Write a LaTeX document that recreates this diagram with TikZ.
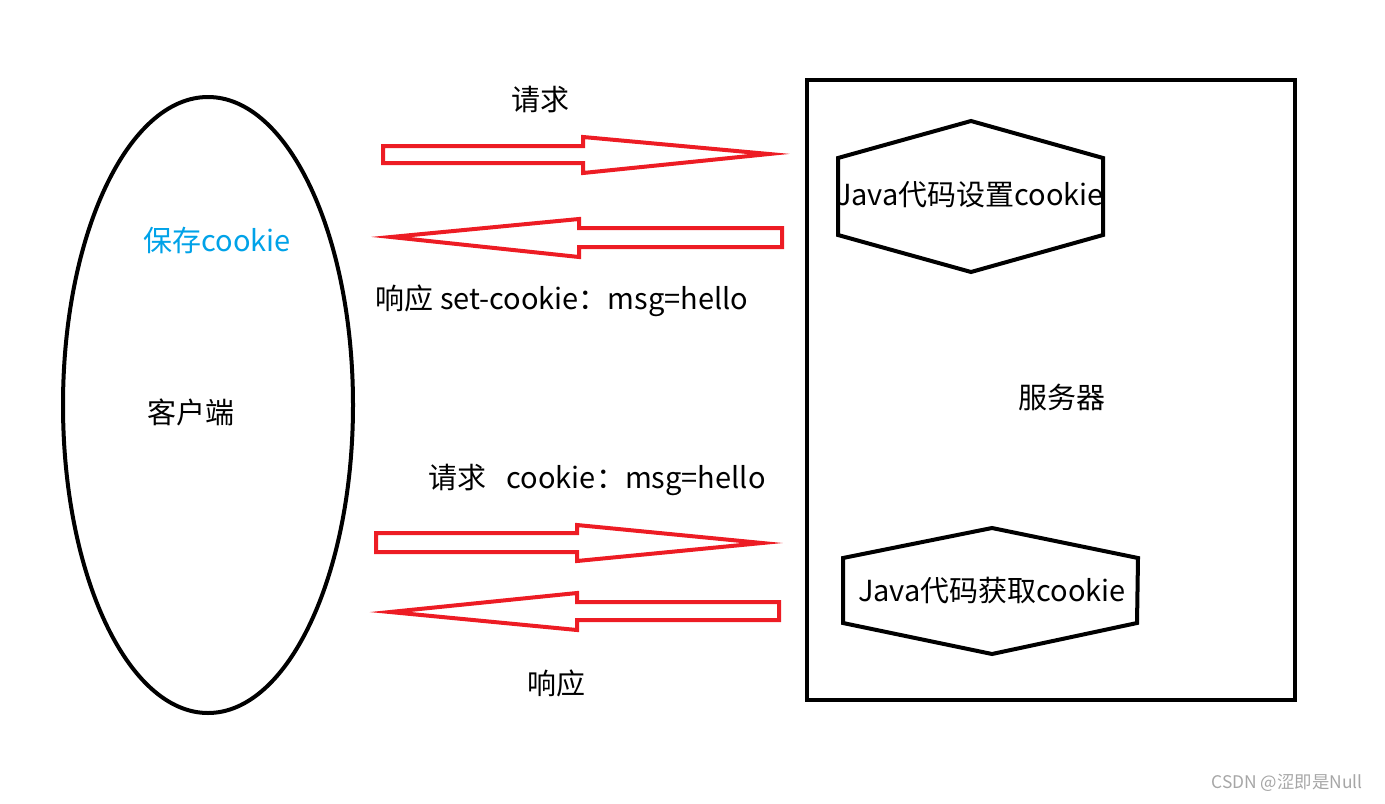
\documentclass[tikz,border=0pt]{standalone}
\usepackage{fontspec}
\setmainfont{Noto Sans CJK SC}
\usetikzlibrary{shapes.geometric}
\definecolor{paintred}{RGB}{237,28,36}
\definecolor{paintblue}{RGB}{0,162,232}
\tikzset{
  blockarrow/.style={draw=paintred,line width=2pt,line join=miter,miter limit=20},
  outline/.style={draw=black,line width=2pt},
  msgtext/.style={font=\fontsize{14.5pt}{16pt}\selectfont,inner sep=0pt}
}
\begin{document}
\begin{tikzpicture}[x=0.5pt,y=-0.5pt]
  \useasboundingbox (0,0) rectangle (1385,803);
  % client and server
  \node[outline,ellipse,minimum width=145pt,minimum height=308pt,inner sep=0pt]
    (client) at (208,405) {};
  \node[outline,minimum width=244pt,minimum height=310pt,inner sep=0pt]
    (server) at (1051,390) {};
  % hexagons
  \draw[outline]
    (838,158) -- (971,121) -- (1103,158) -- (1103,235) -- (971,272) -- (838,235) -- cycle
    (843,558) -- (992,528) -- (1138,558) -- (1137,623) -- (992,654) -- (843,623) -- cycle;
  \node[msgtext] (setjava) at (970,195) {Java代码设置cookie};
  \node[msgtext] (getjava) at (992,590) {Java代码获取cookie};
  % block arrows
  \draw[blockarrow]
    (383,146) -- (583,146) -- (583,137) -- (769,154) -- (583,173) -- (583,163) -- (383,163) -- cycle
    (782,228) -- (579,228) -- (579,219) -- (391,237) -- (579,257) -- (579,247) -- (782,247) -- cycle
    (376,533) -- (577,533) -- (577,525) -- (762,543) -- (577,561) -- (577,552) -- (376,552) -- cycle
    (779,602) -- (577,602) -- (577,593) -- (390,612) -- (577,630) -- (577,620) -- (779,620) -- cycle;
  % texts
  \node[msgtext] (req1) at (540,100) {请求};
  \node[msgtext,text=paintblue] (save) at (217,240) {保存cookie};
  \node[msgtext] (resp1) at (562,301) {响应 set-cookie：msg=hello};
  \node[msgtext] (clientname) at (191,412) {客户端};
  \node[msgtext] (servername) at (1062,397) {服务器};
  \node[msgtext] (req2) at (597,480) {请求\hspace{0.7em}cookie：msg=hello};
  \node[msgtext] (resp2) at (556,683) {响应};
  \node[font=\fontsize{8.7pt}{10pt}\selectfont,text=black!35,inner sep=0pt]
    (mark) at (1287,783) {CSDN @涩即是Null};
\end{tikzpicture}
\end{document}
